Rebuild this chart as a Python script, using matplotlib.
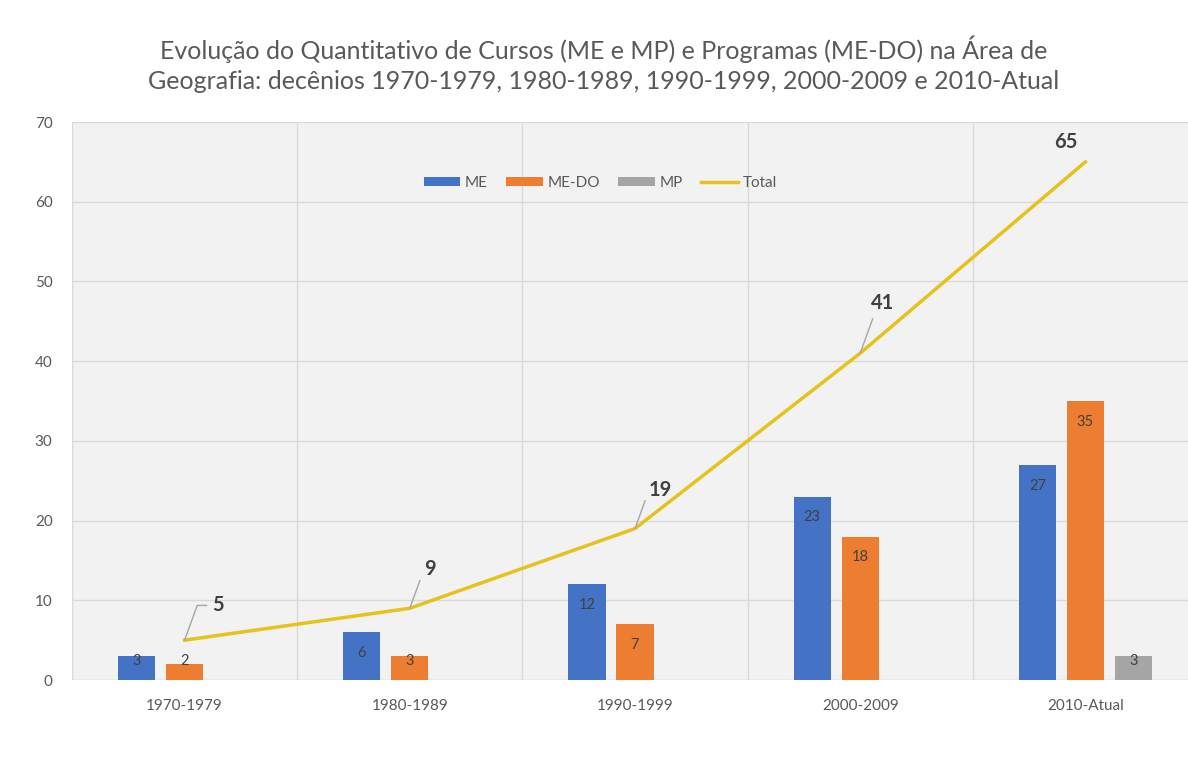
import numpy as np
import matplotlib.pyplot as plt

# dados
decenios = ["1970-1979", "1980-1989", "1990-1999", "2000-2009", "2010-Atual"]
me = [3, 6, 12, 23, 27]
me_do = [2, 3, 7, 18, 35]
mp = [0, 0, 0, 0, 3]
total = [5, 9, 19, 41, 65]

titulo = ("Evolução do Quantitativo de Cursos (ME e MP) e Programas (ME-DO) na Área de\n"
          "Geografia: decênios 1970-1979, 1980-1989, 1990-1999, 2000-2009 e 2010-Atual")

plt.rcParams['font.family'] = ['Lato', 'DejaVu Sans']

fig = plt.figure(figsize=(11.88, 7.58), dpi=100)
fig.patch.set_facecolor('white')
ax = fig.add_axes([0.0606, 0.1029, 0.9478, 0.7361])
ax.set_facecolor('#F2F2F2')

x = np.arange(len(decenios))
w = 0.165
off = 0.213

b1 = ax.bar(x - off, me, w, color='#4472C4', label='ME', zorder=3)
b2 = ax.bar(x, me_do, w, color='#ED7D31', label='ME-DO', zorder=3)
# MP só aparece onde existe valor
mp_x = [xi + off for xi, v in zip(x, mp) if v > 0]
mp_v = [v for v in mp if v > 0]
b3 = ax.bar(mp_x, mp_v, w, color='#A5A5A5', label='MP', zorder=3)
ln, = ax.plot(x, total, color='#E6C21C', lw=2.5, label='Total', zorder=4)

# rótulos "extremidade interna": um pouco abaixo do topo, sem descer demais
for bars in (b1, b2, b3):
    for r in bars:
        h = r.get_height()
        yl = max(h - 2.6, 2.4)
        ax.text(r.get_x() + r.get_width() / 2, yl, str(int(h)),
                ha='center', va='center', fontsize=10.5, color='#404040', zorder=5)

# rótulos do total com linhas de chamada
offs = [(20, 25), (10, 28), (10, 28), (8, 36), (-14, 14)]
for xi, v, (dx, dy) in zip(x, total, offs):
    if xi < len(x) - 1:
        ax.annotate(str(v), (xi, v), xytext=(dx, dy), textcoords='offset points',
                    ha='left', va='center', fontsize=14.5, fontweight='bold', color='#404040',
                    arrowprops=dict(arrowstyle='-', color='#A6A6A6', lw=1,
                                    shrinkA=2, shrinkB=0,
                                    connectionstyle='angle,angleA=0,angleB=70,rad=0'),
                    zorder=5)
    else:
        ax.annotate(str(v), (xi, v), xytext=(dx, dy), textcoords='offset points',
                    ha='center', va='center', fontsize=14.5, fontweight='bold', color='#404040',
                    zorder=5)

ax.set_xlim(-0.5, len(x) - 0.5)
ax.set_ylim(0, 70)
ax.set_yticks(np.arange(0, 71, 10))
ax.set_xticks(x)
ax.set_xticklabels(decenios)
ax.set_xticks(np.arange(-0.5, len(x), 1.0), minor=True)
ax.grid(axis='y', which='major', color='#D9D9D9', lw=1, zorder=0)
ax.grid(axis='x', which='minor', color='#D9D9D9', lw=1, zorder=0)
ax.tick_params(axis='both', which='both', length=0, labelsize=11, colors='#595959')
ax.tick_params(axis='x', pad=14)
ax.tick_params(axis='y', pad=14)
for s in ax.spines.values():
    s.set_visible(False)
ax.axhline(0, color='#D9D9D9', lw=1, zorder=2)

ax.legend(handles=[b1, b2, b3, ln], loc='center', bbox_to_anchor=(0.469, 0.891),
          ncol=4, frameon=False, fontsize=11, labelcolor='#595959',
          handlelength=2.4, handleheight=0.6, columnspacing=1.2, handletextpad=0.3)

fig.text(0.508, 0.915, titulo, ha='center', va='center', fontsize=18,
         color='#595959', linespacing=1.35)

fig.savefig('out.png', dpi=100, facecolor=fig.get_facecolor())
